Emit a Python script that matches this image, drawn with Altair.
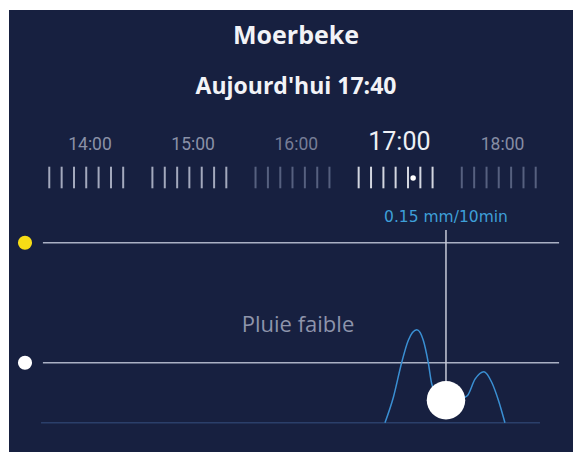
import altair as alt
import pandas as pd

# ---------------- data ----------------
place = "Moerbeke"
subtitle = "Aujourd'hui 17:40"

hour_labels = ["14:00", "15:00", "16:00", "17:00", "18:00"]
hour_minutes = [60, 120, 180, 240, 300]            # minutes after 13:00
tick_offsets = [-23.7, -16.5, -9.3, -2.2, 5.0, 12.2, 19.3]
current_hour = "17:00"
strip_marker_minute = 248

rain_minutes = [231.6, 236.5, 241.3, 245.2, 250.1, 253.9, 256.8, 258.8, 263.0,
                268.0, 274.0, 279.5, 284.0, 289.2, 293.7, 297.6, 301.4]
rain_mm = [0.0, 0.17, 0.40, 0.55, 0.62, 0.55, 0.40, 0.26, 0.17,
           0.14, 0.15, 0.18, 0.29, 0.34, 0.27, 0.15, 0.0]

current_minute = 267.1
current_mm = 0.15
unit = "mm/10min"

level_names = ["forte", "faible"]
level_mm = [1.2, 0.4]
level_label = "Pluie faible"
level_label_mm = 0.4

panel_start, panel_end = 32.6, 332.9
baseline_start, baseline_end = 31.5, 321.8

# ---------------- styles ----------------
BG = "#172040"
tick_colors = ["#a3a9bd", "#a3a9bd", "#56607f", "#d3d6e0", "#56607f"]
label_colors = ["#8a91a7", "#8a91a7", "#767d96", "#eef0f5", "#868da4"]
dot_colors = ["#f6dc16", "#ffffff"]

x_scale = alt.Scale(domain=[12.87, 341.0], nice=False, zero=False)
y_scale = alt.Scale(domain=[-0.1953, 2.7513], nice=False, zero=False)
X = lambda f: alt.X(f, type="quantitative", scale=x_scale, axis=None)
Y = lambda f: alt.Y(f, type="quantitative", scale=y_scale, axis=None)

hours_df = pd.DataFrame({"label": hour_labels, "minute": hour_minutes})
ticks_df = pd.DataFrame([
    {"label": lab, "minute": m + off}
    for lab, m in zip(hour_labels, hour_minutes) for off in tick_offsets
])
rain_df = pd.DataFrame({"minute": rain_minutes, "mm": rain_mm})
cur_df = pd.DataFrame({"minute": [current_minute], "mm": [current_mm],
                       "txt": [f"{current_mm} {unit}"]})
levels_df = pd.DataFrame({"name": level_names, "mm": level_mm,
                          "start": [panel_start] * 2, "end": [panel_end] * 2})
base_df = pd.DataFrame({"mm": [0.0], "start": [baseline_start], "end": [baseline_end]})
marker_df = pd.DataFrame({"minute": [strip_marker_minute]})
title_df = pd.DataFrame({"t": [place]})
sub_df = pd.DataFrame({"t": [subtitle]})
lab_df = pd.DataFrame({"t": [level_label], "mm": [level_label_mm]})

title = alt.Chart(title_df).mark_text(font="Open Sans", fontWeight="bold", fontSize=25,
                                      color="#f2f3f7").encode(
    x=alt.value(287), y=alt.value(26), text="t:N")
sub = alt.Chart(sub_df).mark_text(font="Open Sans", fontWeight="bold", fontSize=23,
                                  color="#f2f3f7").encode(
    x=alt.value(287), y=alt.value(77), text="t:N")

hour_text = alt.Chart(hours_df).mark_text(font="Roboto", baseline="alphabetic").encode(
    x=X("minute"), y=alt.value(140), text="label:N",
    color=alt.Color("label:N", scale=alt.Scale(domain=hour_labels, range=label_colors), legend=None),
    size=alt.condition(alt.datum.label == current_hour, alt.value(25), alt.value(17.5)))

ticks = alt.Chart(ticks_df).mark_rule(strokeWidth=2).encode(
    x=X("minute"), y=alt.value(156.7), y2=alt.value(178.3),
    color=alt.Color("label:N", scale=alt.Scale(domain=hour_labels, range=tick_colors), legend=None))

marker = alt.Chart(marker_df).mark_circle(size=30, color="#ffffff", opacity=1).encode(
    x=X("minute"), y=alt.value(168))

level_lines = alt.Chart(levels_df).mark_rule(color="#aab0c4", strokeWidth=1.5).encode(
    x=X("start"), x2="end", y=Y("mm"))
level_dots = alt.Chart(levels_df).mark_circle(size=200, opacity=1).encode(
    x=alt.value(16), y=Y("mm"),
    color=alt.Color("name:N", scale=alt.Scale(domain=level_names, range=dot_colors), legend=None))

baseline = alt.Chart(base_df).mark_rule(color="#2b3f6a", strokeWidth=1.5).encode(
    x=X("start"), x2="end", y=Y("mm"))

level_text = alt.Chart(lab_df).mark_text(font="Open Sans", fontSize=22, color="#8e94ab",
                                         dy=-38).encode(
    x=alt.value(289), y=Y("mm"), text="t:N")

curve = alt.Chart(rain_df).mark_line(interpolate="monotone", color="#3a8fd3",
                                     strokeWidth=1.5).encode(x=X("minute"), y=Y("mm"))

vrule = alt.Chart(cur_df).mark_rule(color="#c6cad9", strokeWidth=1.5).encode(
    x=X("minute"), y=Y("mm"), y2=alt.value(220))
big = alt.Chart(cur_df).mark_circle(size=1480, color="#ffffff", opacity=1).encode(
    x=X("minute"), y=Y("mm"))
cur_text = alt.Chart(cur_df).mark_text(font="DejaVu Sans", fontSize=15.5, color="#3e9fd8").encode(
    x=X("minute"), y=alt.value(206.7), text="txt:N")

chart = alt.layer(
    title, sub, hour_text, ticks, marker, level_lines, level_dots, baseline,
    level_text, curve, vrule, big, cur_text
).resolve_scale(color="independent").properties(
    width=565, height=444,
    autosize=alt.AutoSizeParams(type="fit", contains="padding"),
    padding={"left": 1, "top": 2, "right": 0, "bottom": 0},
    background="#ffffff",
).configure_view(fill=BG, stroke=None)

chart.save("out.html", embed_options={"renderer": "svg", "actions": False})
